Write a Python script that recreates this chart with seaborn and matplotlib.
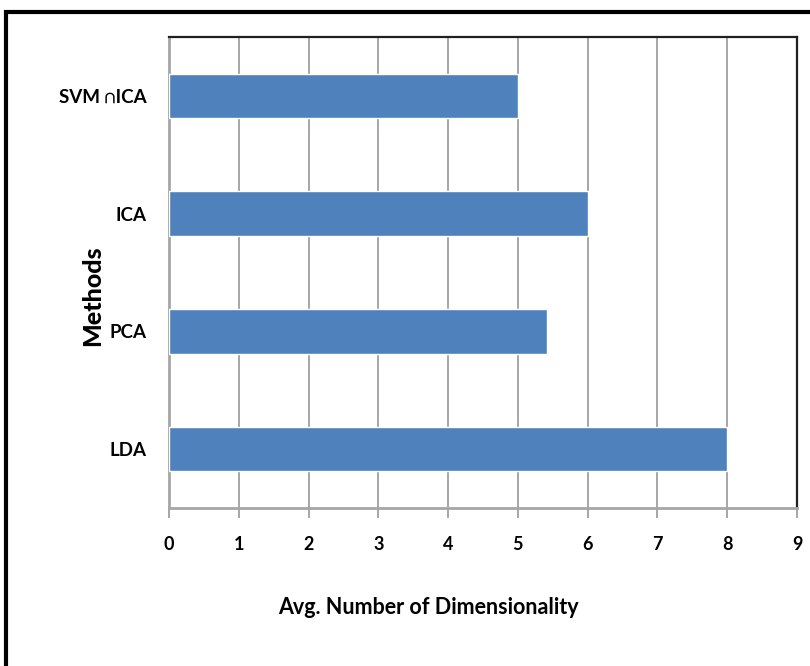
import matplotlib
matplotlib.use("Agg")
from matplotlib import pyplot as plt
from matplotlib.patches import Rectangle
import pandas as pd
import seaborn as sns

# chart data
methods = ["SVM \u2229ICA", "ICA", "PCA", "LDA"]
avg_dims = [5.0, 6.0, 5.42, 8.0]
x_ticks = list(range(0, 10))

df = pd.DataFrame({"method": methods, "dims": avg_dims})

sns.set_style("white")
plt.rcParams["font.family"] = ["Lato", "DejaVu Sans"]
plt.rcParams["font.weight"] = "bold"
plt.rcParams["text.color"] = "black"
plt.rcParams["xtick.color"] = "black"
plt.rcParams["ytick.color"] = "black"

fig = plt.figure(figsize=(8.1, 6.66), dpi=100)
ax = fig.add_axes([169 / 810, 1 - 508 / 666, (797 - 169) / 810, (508 - 37) / 666])

sns.barplot(data=df, y="method", x="dims", order=methods, orient="h",
            color="#4f81bd", saturation=1, width=0.38, ax=ax, zorder=3)

# axes look (excel style)
ax.set_xlim(0, 9)
ax.set_ylim(3.5, -0.5)
ax.set_xticks(x_ticks)
ax.set_xticklabels([str(t) for t in x_ticks], fontsize=13, fontweight="bold")
ax.set_yticklabels(methods, fontsize=13.5, fontweight="bold")
ax.grid(axis="x", color="#a6a6a6", linewidth=1.4, zorder=0)
ax.set_axisbelow(True)
ax.tick_params(axis="x", direction="out", length=7, width=1.4,
               color="#a6a6a6", labelcolor="black", pad=13, bottom=True)
ax.tick_params(axis="y", length=0, pad=16, labelcolor="black")
for side in ["left", "bottom"]:
    ax.spines[side].set_color("#a6a6a6")
    ax.spines[side].set_linewidth(2)
for side in ["top", "right"]:
    ax.spines[side].set_color("#202020")
    ax.spines[side].set_linewidth(1.6)
ax.set_xlabel("")
ax.set_ylabel("")

# labels
fig.text(428 / 810, 1 - 608 / 666, "Avg. Number of Dimensionality",
         ha="center", va="center", fontsize=15.5, fontweight="bold", color="black")
fig.text(93 / 810, 1 - 296 / 666, "Methods", rotation=90,
         ha="center", va="center", fontsize=18, fontweight="black", color="black")

# outer frame of the chart area
frame = Rectangle((6 / 810, -0.2), 1.2, 1.2 - 12 / 666,
                  transform=fig.transFigure, fill=False,
                  edgecolor="black", linewidth=3, clip_on=False)
fig.patches.append(frame)

plt.savefig("out.png", dpi=100)
